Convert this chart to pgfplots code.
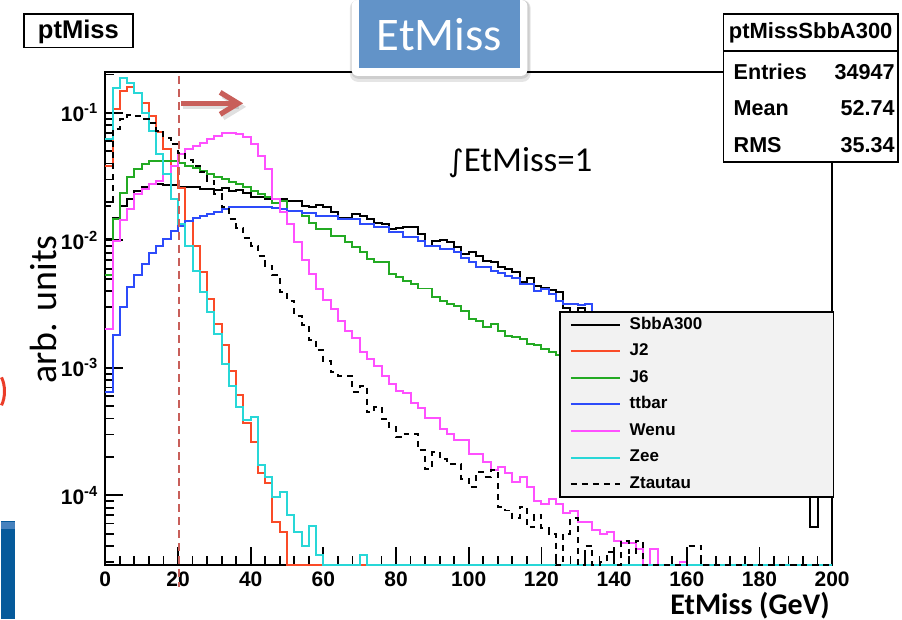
\documentclass[border=0pt]{standalone}
\usepackage{fontspec}
\setmainfont{Liberation Sans}
\newfontfamily\carlito{Carlito}
\newfontfamily\dejavu{DejaVu Sans}
\usepackage{pgfplots}
\usepackage{pgfplotstable}
\pgfplotsset{compat=1.18}
\usetikzlibrary{arrows.meta}

\definecolor{hJtwo}{RGB}{250,75,40}
\definecolor{hJsix}{RGB}{35,170,35}
\definecolor{htt}{RGB}{45,75,250}
\definecolor{hwenu}{RGB}{255,80,255}
\definecolor{hzee}{RGB}{40,215,215}
\definecolor{legbg}{RGB}{242,242,242}
\definecolor{ppred}{RGB}{200,95,90}
\definecolor{ppblue}{RGB}{98,147,200}
\definecolor{slideblue}{RGB}{5,90,155}
\definecolor{slideblue2}{RGB}{70,130,190}
\definecolor{slidered}{RGB}{235,60,40}

% normalised EtMiss histograms, 2 GeV bins (left edges); 2.836e-5 = empty bin (axis floor)
\pgfplotstableread{
x sbb j2 j6 tt wenu zee ztt
0 0.0103 0.0385 0.0053 0.000645 0.00202 0.0626 0.0187
2 0.0151 0.1075 0.0148 0.00181 0.00995 0.158 0.0745
4 0.0187 0.149 0.0237 0.00298 0.0145 0.189 0.0893
6 0.0211 0.160 0.0312 0.00429 0.0176 0.173 0.096
8 0.0245 0.1435 0.0365 0.0053 0.0231 0.1435 0.0947
10 0.0263 0.120 0.0399 0.00654 0.0253 0.100 0.0902
12 0.0276 0.0947 0.0421 0.00797 0.0277 0.0723 0.084
14 0.0278 0.071 0.0421 0.00897 0.0293 0.0477 0.0723
16 0.0272 0.0522 0.0421 0.0102 0.0331 0.0333 0.064
18 0.0272 0.0385 0.0421 0.0119 0.0385 0.0212 0.0569
20 0.026 0.0259 0.0406 0.013 0.0475 0.0135 0.0483
22 0.026 0.0143 0.0385 0.0143 0.052 0.0091 0.0429
24 0.026 0.0091 0.0371 0.0151 0.0551 0.00579 0.0385
26 0.0253 0.0056 0.0351 0.0156 0.0585 0.0039 0.0341
28 0.0253 0.00349 0.0333 0.0161 0.0622 0.00273 0.0293
30 0.025 0.00222 0.0312 0.0168 0.066 0.00183 0.0231
32 0.0256 0.0015 0.0304 0.0176 0.0693 0.00108 0.0181
34 0.0245 0.00094 0.0288 0.0181 0.07 0.00072 0.0148
36 0.025 0.00061 0.0278 0.0181 0.0681 0.00049 0.0126
38 0.0237 0.000367 0.026 0.0184 0.0652 0.00039 0.0105
40 0.022 0.00026 0.0245 0.0184 0.0569 0.00041 0.0091
42 0.022 0.000149 0.0232 0.0181 0.0461 0.000172 0.0076
44 0.0211 0.000124 0.0217 0.0181 0.0362 0.000139 0.00634
46 0.0211 6.2e-5 0.0198 0.0178 0.0211 9.7e-5 0.0053
48 0.0211 5.2e-5 0.0204 0.0176 0.0166 1.06e-4 0.0039
50 0.0204 2.836e-5 0.0171 0.0171 0.0135 7.0e-5 0.00337
52 0.0204 2.836e-5 0.0171 0.0171 0.00964 5.2e-5 0.00257
54 0.0187 2.836e-5 0.0156 0.0164 0.00706 4.0e-5 0.00215
56 0.0181 2.836e-5 0.0138 0.0164 0.00549 5.7e-5 0.00164
58 0.0189 2.836e-5 0.0123 0.0156 0.00416 3.4e-5 0.00137
60 0.0181 2.836e-5 0.0123 0.0156 0.00343 2.836e-5 0.00114
62 0.0166 2.836e-5 0.0109 0.0156 0.00287 2.836e-5 0.00092
64 0.0151 2.836e-5 0.0109 0.0147 0.00235 2.836e-5 0.00087
66 0.0151 2.836e-5 0.00964 0.0147 0.00196 2.836e-5 0.00087
68 0.0161 2.836e-5 0.00882 0.0146 0.00171 2.836e-5 0.000645
70 0.0156 2.836e-5 0.00806 0.0134 0.00134 3.4e-5 0.00072
72 0.0147 2.836e-5 0.00715 0.0134 0.00118 2.836e-5 0.000449
74 0.0138 2.836e-5 0.00673 0.0127 0.00103 2.836e-5 0.00049
76 0.0134 2.836e-5 0.00673 0.0127 0.00086 2.836e-5 0.0004
78 0.0123 2.836e-5 0.00549 0.0117 0.00075 2.836e-5 0.000343
80 0.0124 2.836e-5 0.00513 0.0117 0.00066 2.836e-5 0.000287
82 0.0127 2.836e-5 0.00484 0.0106 0.00063 2.836e-5 0.000305
84 0.0127 2.836e-5 0.00458 0.0106 0.000533 2.836e-5 0.000305
86 0.0112 2.836e-5 0.00419 0.00995 0.000484 2.836e-5 0.000225
88 0.0091 2.836e-5 0.00419 0.0091 0.000404 2.836e-5 0.000162
90 0.0098 2.836e-5 0.00358 0.0091 0.000404 2.836e-5 0.000218
92 0.0101 2.836e-5 0.00337 0.00857 0.00033 2.836e-5 0.000194
94 0.00964 2.836e-5 0.00317 0.00857 0.000305 2.836e-5 0.000177
96 0.00892 2.836e-5 0.00308 0.00806 0.00027 2.836e-5 0.000177
98 0.00782 2.836e-5 0.00281 0.00723 0.00027 2.836e-5 0.000135
100 0.00806 2.836e-5 0.00242 0.00673 0.000209 2.836e-5 0.000116
102 0.00749 2.836e-5 0.00231 0.00614 0.000209 2.836e-5 0.000151
104 0.00693 2.836e-5 0.00208 0.00614 0.000183 2.836e-5 0.000139
106 0.00673 2.836e-5 0.00222 0.00579 0.000157 2.836e-5 0.000157
108 0.00614 2.836e-5 0.00196 0.00555 0.000166 2.836e-5 8.1e-5
110 0.00597 2.836e-5 0.00177 0.00522 0.000149 2.836e-5 7.6e-5
112 0.00569 2.836e-5 0.00174 0.00504 0.000128 2.836e-5 6.6e-5
114 0.00469 2.836e-5 0.00169 0.00456 0.000138 2.836e-5 8.1e-5
116 0.00504 2.836e-5 0.00154 0.00456 0.000116 2.836e-5 5.6e-5
118 0.00442 2.836e-5 0.0015 0.00397 9.0e-5 2.836e-5 7.0e-5
120 0.00421 2.836e-5 0.00141 0.00416 8.6e-5 2.836e-5 5.5e-5
122 0.00411 2.836e-5 0.00134 0.0038 9.3e-5 2.836e-5 5.0e-5
124 0.0039 2.836e-5 0.00125 0.00337 8.5e-5 2.836e-5 2.836e-5
126 0.00293 2.836e-5 0.0012 0.00317 7.3e-5 2.836e-5 5.0e-5
128 0.00273 2.836e-5 0.00114 0.00317 7.5e-5 2.836e-5 6.6e-5
130 0.00293 2.836e-5 0.00108 0.00312 6.2e-5 2.836e-5 2.836e-5
132 0.00253 2.836e-5 0.00104 0.00317 6.2e-5 2.836e-5 4.0e-5
134 0.00253 2.836e-5 0.00098 0.0027 5.3e-5 2.836e-5 2.836e-5
136 0.00276 2.836e-5 0.00094 0.0025 5.0e-5 2.836e-5 3.0e-5
138 0.0025 2.836e-5 0.00089 0.00254 5.2e-5 2.836e-5 3.6e-5
140 0.0024 2.836e-5 0.00085 0.00242 4.4e-5 2.836e-5 2.836e-5
142 0.0023 2.836e-5 0.00081 0.0023 4.2e-5 2.836e-5 4.4e-5
144 0.0022 2.836e-5 0.00077 0.0022 4.2e-5 2.836e-5 3.5e-5
146 0.0021 2.836e-5 0.00073 0.0021 3.8e-5 2.836e-5 4.4e-5
148 0.00195 2.836e-5 0.0007 0.002 2.836e-5 2.836e-5 2.836e-5
150 0.00185 2.836e-5 0.00066 0.0019 3.8e-5 2.836e-5 2.836e-5
152 0.00175 2.836e-5 0.00063 0.0018 2.836e-5 2.836e-5 2.836e-5
154 0.00165 2.836e-5 0.0006 0.0017 2.836e-5 2.836e-5 2.836e-5
156 0.00155 2.836e-5 0.00057 0.0016 2.836e-5 2.836e-5 2.836e-5
158 0.00148 2.836e-5 0.00054 0.00155 3.0e-5 2.836e-5 2.836e-5
160 0.0014 2.836e-5 0.00052 0.00148 2.836e-5 2.836e-5 4.0e-5
162 0.0013 2.836e-5 0.00049 0.0014 2.836e-5 2.836e-5 4.0e-5
164 0.00125 2.836e-5 0.00047 0.00133 2.836e-5 2.836e-5 2.836e-5
166 0.00118 2.836e-5 0.00045 0.00126 2.836e-5 2.836e-5 2.836e-5
168 0.0011 2.836e-5 0.00042 0.0012 2.836e-5 2.836e-5 2.836e-5
170 0.00105 2.836e-5 0.0004 0.00114 2.836e-5 2.836e-5 2.836e-5
172 0.001 2.836e-5 0.00038 0.00108 2.836e-5 2.836e-5 2.836e-5
174 0.00095 2.836e-5 0.00036 0.00103 2.836e-5 2.836e-5 2.836e-5
176 0.0009 2.836e-5 0.00035 0.00098 2.836e-5 2.836e-5 2.836e-5
178 0.00085 2.836e-5 0.00033 0.00093 2.836e-5 2.836e-5 2.836e-5
180 0.0008 2.836e-5 0.00031 0.00088 2.836e-5 2.836e-5 2.836e-5
182 0.00075 2.836e-5 0.0003 0.00084 2.836e-5 2.836e-5 2.836e-5
184 0.0007 2.836e-5 0.00028 0.0008 2.836e-5 2.836e-5 2.836e-5
186 0.00066 2.836e-5 0.00027 0.00076 2.836e-5 2.836e-5 2.836e-5
188 0.00062 2.836e-5 0.00026 0.00072 2.836e-5 2.836e-5 2.836e-5
190 0.00058 2.836e-5 0.00024 0.00068 2.836e-5 2.836e-5 2.836e-5
192 0.00055 2.836e-5 0.00023 0.00065 2.836e-5 2.836e-5 2.836e-5
194 5.6e-5 2.836e-5 0.00022 0.00062 2.836e-5 2.836e-5 2.836e-5
196 0.00049 2.836e-5 0.00021 0.00059 2.836e-5 2.836e-5 2.836e-5
198 0.00046 2.836e-5 0.0002 0.00056 2.836e-5 2.836e-5 2.836e-5
200 0.00046 2.836e-5 0.0002 0.00056 2.836e-5 2.836e-5 2.836e-5
}\etmiss

\begin{document}
\begin{tikzpicture}
% page = 902 x 614 px, 1 px = 0.5pt, y downwards
\begin{scope}[x=0.5pt,y=-0.5pt]
\path[use as bounding box] (0,0) rectangle (902,614);
\end{scope}

\begin{axis}[
    at={(52pt,-280pt)}, anchor=south west,
    scale only axis, width=364pt, height=247pt,
    xmin=0, xmax=200,
    ymode=log, ymin=2.836e-5, ymax=0.2096,
    clip=false,
    axis line style={line width=1pt},
    tick pos=left, tick align=inside,
    xtick={0,20,...,200}, minor x tick num=4,
    ytick={1e-4,1e-3,1e-2,1e-1},
    yticklabels={10\textsuperscript{-4},10\textsuperscript{-3},10\textsuperscript{-2},10\textsuperscript{-1}},
    minor ytick={3e-5,4e-5,5e-5,6e-5,7e-5,8e-5,9e-5,
                 2e-4,3e-4,4e-4,5e-4,6e-4,7e-4,8e-4,9e-4,
                 2e-3,3e-3,4e-3,5e-3,6e-3,7e-3,8e-3,9e-3,
                 2e-2,3e-2,4e-2,5e-2,6e-2,7e-2,8e-2,9e-2,2e-1},
    major tick length=9pt, minor tick length=4.5pt,
    every tick/.style={black, line width=0.9pt},
    tick label style={font=\fontsize{10.5}{12}\selectfont\bfseries},
    /pgf/number format/assume math mode=true,
    const plot,
    every axis plot/.append style={line width=1pt},
    legend image code/.code={\draw[#1] (0pt,0pt) -- (24.5pt,0pt);},
    legend style={at={(0.6254,0.5136)}, anchor=north west, outer sep=0pt,
        fill=legbg, draw=black, line width=0.9pt,
        inner xsep=5pt, inner ysep=2.5pt, row sep=5.3pt, column sep=4.5pt,
        font=\fontsize{8.5}{10}\selectfont\bfseries,
        nodes={inner sep=0pt, text height=6.2pt, text depth=1.8pt}},
    legend cell align=left,
]
\addplot[black] table[x=x,y=sbb]{\etmiss};
\addplot[hJtwo] table[x=x,y=j2]{\etmiss};
\addplot[hJsix] table[x=x,y=j6]{\etmiss};
\addplot[htt] table[x=x,y=tt]{\etmiss};
\addplot[hwenu] table[x=x,y=wenu]{\etmiss};
\addplot[hzee] table[x=x,y=zee]{\etmiss};
\addplot[black, dash pattern=on 3pt off 2.5pt] table[x=x,y=ztt]{\etmiss};
\legend{\makebox[97pt][l]{SbbA300},\makebox[97pt][l]{J2},\makebox[97pt][l]{J6},
        \makebox[97pt][l]{ttbar},\makebox[97pt][l]{Wenu},\makebox[97pt][l]{Zee},
        \makebox[97pt][l]{Ztautau}}
\end{axis}

\begin{scope}[x=0.5pt,y=-0.5pt]
% ROOT title and stats boxes
\draw[fill=white, line width=0.8pt] (22.7,8.3) rectangle (131.7,41.7);
\node[font=\fontsize{12.8}{14}\selectfont\bfseries] at (77,25.5) {ptMiss};
\draw[fill=white, line width=0.8pt] (723,8) rectangle (898,156);
\draw[line width=0.8pt] (723,45) -- (898,45);
\node[font=\fontsize{11}{13}\selectfont\bfseries] at (810.5,27) {ptMissSbbA300};
\begin{scope}[every node/.style={inner sep=0pt, font=\fontsize{10.8}{13}\selectfont\bfseries}]
\node[anchor=base west] at (733,73.3) {Entries};
\node[anchor=base east] at (895,73.3) {34947};
\node[anchor=base west] at (733,110) {Mean};
\node[anchor=base east] at (895,110) {52.74};
\node[anchor=base west] at (733,146.7) {RMS};
\node[anchor=base east] at (895,146.7) {35.34};
\end{scope}

% slide overlays
\fill[black, opacity=0.10, rounded corners=4pt] (349,-6) rectangle (530,76);
\fill[black, opacity=0.10, rounded corners=4pt] (350,-6) rectangle (529,73);
\fill[white, rounded corners=3pt] (350.7,-6) rectangle (526.7,70);
\fill[ppblue] (358.3,-6) rectangle (519,61.7);
\node[anchor=base, text=white, inner sep=0pt, font=\carlito\fontsize{23.4}{26}\selectfont] at (438.7,45) {EtMiss};

\node[anchor=base west, inner sep=0pt, font=\carlito\fontsize{17.5}{20}\selectfont] at (447,166) {{\dejavu\fontsize{15}{18}\selectfont ∫}EtMiss=1};
\node[rotate=90, anchor=base, inner sep=0pt, font=\carlito\fontsize{19}{22}\selectfont] at (55,304) {arb. units};
\node[anchor=base east, inner sep=0pt, font=\carlito\bfseries\fontsize{15}{18}\selectfont] at (830,610) {EtMiss (GeV)};

\draw[ppred, line width=1.2pt, dash pattern=on 4pt off 2.5pt] (178,70) -- (178,582);
\draw[black, opacity=0.12, line width=2.6pt, -{Straight Barb[length=9pt,width=11pt]}] (182,101) -- (245,101);
\draw[ppred, line width=2.6pt, -{Straight Barb[length=9pt,width=11pt]}] (180,97.5) -- (242,97.5);

\fill[slideblue] (0,516) rectangle (14,614);
\fill[slideblue2] (0,517) rectangle (14,524);
\draw[slidered, line width=1.5pt] (0,372) .. controls (4,380) and (4,392) .. (0,400);
\end{scope}
\end{tikzpicture}
\end{document}
